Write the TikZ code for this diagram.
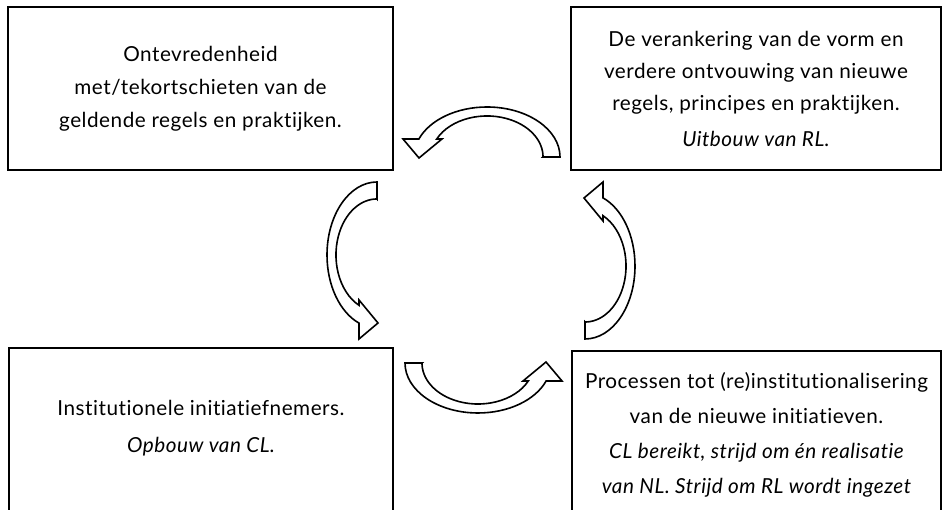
\documentclass[tikz,border=0pt]{standalone}
\usepackage{fontspec}
\setmainfont{Lato}[LetterSpace=2.5, Ligatures=NoCommon]
\usepackage{tikz}

\tikzset{
  bent/.pic={
    \draw[line width=1.6pt, line join=miter, fill=white]
      (56,0) -- (73,0)
      arc[start angle=0, end angle=158.9, x radius=73, y radius=50]
      -- (-84,18) -- (-68,-1) -- (-45,18) -- (-50.3,18)
      arc[start angle=154, end angle=0, x radius=56, y radius=41]
      -- cycle;
  }
}

\begin{document}
\begin{tikzpicture}[x=1pt, y=1pt]
    \useasboundingbox (0,0) rectangle (943,510);
    \begin{scope}[every node/.style={rectangle,draw=black,line width=2pt,align=center,inner sep=0pt,font=\fontsize{20.7}{32}\selectfont}]
        \node[minimum width=385pt, minimum height=163pt, font=\fontsize{20.7}{33}\selectfont] (A) at (200.5,421.5) {Ontevredenheid\\met/tekortschieten van de\\geldende regels en praktijken.};
        \node[minimum width=370pt, minimum height=163pt] (B) at (756,421.5) {De verankering van de vorm en\\verdere ontvouwing van nieuwe\\regels, principes en praktijken.\\[4pt]{\itshape Uitbouw van RL.}};
        \node[minimum width=384pt, minimum height=182pt, text depth=26pt] (C) at (201,71) {Institutionele initiatiefnemers.\\[5pt]{\itshape Opbouw van CL.}};
        \node[minimum width=369pt, minimum height=168pt, font=\fontsize{20.7}{35}\selectfont] (D) at (756.5,75) {Processen tot (re)institutionalisering\\van de nieuwe initiatieven.\\{\itshape CL bereikt, strijd om én realisatie}\\{\itshape van NL. Strijd om RL wordt ingezet}};
    \end{scope}
    \begin{scope}
        \pic at (487,353) {bent};
        \pic[rotate=90] at (377,255) {bent};
        \pic[rotate=180] at (478,147) {bent};
        \pic[rotate=270] at (585,244) {bent};
    \end{scope}
\end{tikzpicture}
\end{document}
